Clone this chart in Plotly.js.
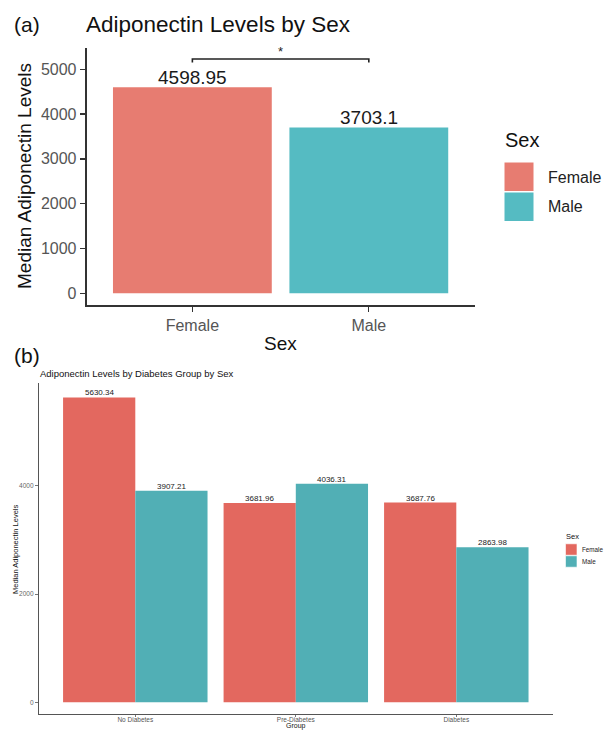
<!DOCTYPE html>
<html>
<head>
<meta charset="utf-8">
<script src="https://cdn.plot.ly/plotly-3.0.1.min.js"></script>
<style>html,body{margin:0;padding:0;background:#fff;overflow:hidden;}#chart{width:608px;height:731px;}</style>
</head>
<body>
<div id="chart"></div>
<script>
// ---- Panel (a) data ----
const sexCategories = ["Female", "Male"];
const sexMedians = [4598.95, 3703.1];
const sexTicks = [0, 1000, 2000, 3000, 4000, 5000];

// ---- Panel (b) data ----
const groupCategories = ["No Diabetes", "Pre-Diabetes", "Diabetes"];
const femaleByGroup = [5630.34, 3681.96, 3687.76];
const maleByGroup = [3907.21, 4036.31, 2863.98];
const groupTicks = [0, 2000, 4000];

const W = 608, H = 731;
const px = v => v / W;
const py = v => 1 - v / H;
const FONT = "Liberation Sans, Arial, Helvetica, sans-serif";

const colA = {Female: "#E77C71", Male: "#55BBC2"};
const colB = {Female: "#E3685F", Male: "#51AFB5"};

const traces = [];
sexCategories.forEach((s, i) => {
  traces.push({
    type: "bar", x: [s], y: [sexMedians[i]], name: s,
    xaxis: "x", yaxis: "y", offsetgroup: "a",
    marker: {color: colA[s]}, showlegend: false, hoverinfo: "x+y"
  });
});
traces.push({
  type: "bar", x: groupCategories, y: femaleByGroup, name: "Female",
  xaxis: "x2", yaxis: "y2", marker: {color: colB.Female}, showlegend: false
});
traces.push({
  type: "bar", x: groupCategories, y: maleByGroup, name: "Male",
  xaxis: "x2", yaxis: "y2", marker: {color: colB.Male}, showlegend: false
});

const annotations = [];
// bar value labels panel (a)
sexCategories.forEach((s, i) => {
  annotations.push({xref: "x", yref: "y", x: i, y: sexMedians[i], text: String(sexMedians[i]),
    showarrow: false, yanchor: "bottom", yshift: -3, font: {family: FONT, size: 19, color: "#1a1a1a"}});
});
// bar value labels panel (b)
groupCategories.forEach((g, i) => {
  annotations.push({xref: "x2", yref: "y2", x: i - 0.225, y: femaleByGroup[i], text: String(femaleByGroup[i]),
    showarrow: false, yanchor: "bottom", yshift: -2, font: {family: FONT, size: 8, color: "#1a1a1a"}});
  annotations.push({xref: "x2", yref: "y2", x: i + 0.225, y: maleByGroup[i], text: String(maleByGroup[i]),
    showarrow: false, yanchor: "bottom", yshift: -2, font: {family: FONT, size: 8, color: "#1a1a1a"}});
});
// significance star
annotations.push({xref: "x", yref: "y", x: 0.5, y: 5240, text: "*", showarrow: false,
  yanchor: "bottom", yshift: -2, font: {family: FONT, size: 13, color: "#222"}});
// panel labels
annotations.push({xref: "paper", yref: "paper", x: px(12), y: py(24), xanchor: "left", yanchor: "middle",
  text: "(a)", showarrow: false, font: {family: FONT, size: 21, color: "#111"}});
annotations.push({xref: "paper", yref: "paper", x: px(12), y: py(355), xanchor: "left", yanchor: "middle",
  text: "(b)", showarrow: false, font: {family: FONT, size: 21, color: "#111"}});
// axis titles panel (a)
annotations.push({xref: "paper", yref: "paper", x: px(24), y: py(176), xanchor: "center", yanchor: "middle",
  textangle: -90, text: "Median Adiponectin Levels", showarrow: false, font: {family: FONT, size: 19, color: "#111"}});
annotations.push({xref: "paper", yref: "paper", x: px(280.6), y: py(343), xanchor: "center", yanchor: "middle",
  text: "Sex", showarrow: false, font: {family: FONT, size: 19, color: "#111"}});
// panel (b) subtitle and axis titles
annotations.push({xref: "paper", yref: "paper", x: px(38), y: py(373), xanchor: "left", yanchor: "middle",
  text: "Adiponectin Levels by Diabetes Group by Sex", showarrow: false, font: {family: FONT, size: 9.5, color: "#111"}});
annotations.push({xref: "paper", yref: "paper", x: px(15), y: py(550), xanchor: "center", yanchor: "middle",
  textangle: -90, text: "Median Adiponectin Levels", showarrow: false, font: {family: FONT, size: 7.5, color: "#111"}});
annotations.push({xref: "paper", yref: "paper", x: px(296), y: 0, xanchor: "center", yanchor: "bottom",
  text: "Group", showarrow: false, borderpad: 0, font: {family: FONT, size: 7, color: "#111"}});
// manual legend for panel (a)
annotations.push({xref: "paper", yref: "paper", x: px(503), y: py(140), xanchor: "left", yanchor: "middle",
  text: "Sex", showarrow: false, font: {family: FONT, size: 20, color: "#111"}});
const legendRowsA = [177, 207];
sexCategories.forEach((s, i) => {
  annotations.push({xref: "paper", yref: "paper", x: px(546), y: py(legendRowsA[i]), xanchor: "left", yanchor: "middle",
    text: s, showarrow: false, font: {family: FONT, size: 16, color: "#222"}});
});
// manual legend for panel (b)
annotations.push({xref: "paper", yref: "paper", x: px(564), y: py(536), xanchor: "left", yanchor: "middle",
  text: "Sex", showarrow: false, font: {family: FONT, size: 7.5, color: "#111"}});
const legendRowsB = [549.5, 561.5];
sexCategories.forEach((s, i) => {
  annotations.push({xref: "paper", yref: "paper", x: px(580), y: py(legendRowsB[i]), xanchor: "left", yanchor: "middle",
    text: s, showarrow: false, font: {family: FONT, size: 6.3, color: "#222"}});
});

const shapes = [];
// bracket
shapes.push({type: "path", xref: "x", yref: "y", path: "M0,5150 L0,5230 L1,5230 L1,5150",
  line: {color: "#222", width: 1.6}});
// legend keys panel (a)
sexCategories.forEach((s, i) => {
  const c = legendRowsA[i];
  shapes.push({type: "rect", xref: "paper", yref: "paper", x0: px(504), x1: px(534), y0: py(c - 15), y1: py(c + 14.5),
    fillcolor: colA[s], line: {color: "#fff", width: 1}});
});
// legend keys panel (b)
sexCategories.forEach((s, i) => {
  const c = legendRowsB[i];
  shapes.push({type: "rect", xref: "paper", yref: "paper", x0: px(565.5), x1: px(577), y0: py(c - 5.7), y1: py(c + 5.7),
    fillcolor: colB[s], line: {color: "#fff", width: 0.6}});
});

const layout = {
  width: W, height: H,
  margin: {l: 0, r: 0, t: 0, b: 0, autoexpand: false},
  paper_bgcolor: "#fff", plot_bgcolor: "#fff",
  font: {family: FONT},
  showlegend: false,
  barmode: "group", bargap: 0.1, bargroupgap: 0,
  title: {text: "Adiponectin Levels by Sex", x: px(86), xanchor: "left", xref: "paper",
    y: py(24), yanchor: "middle", yref: "paper", font: {family: FONT, size: 22.5, color: "#111"}},
  xaxis: {domain: [px(86.5), px(474.7)], anchor: "y", range: [-0.6, 1.6], type: "category",
    showline: true, linecolor: "#333", linewidth: 1.8, ticks: "outside", ticklen: 5, tickwidth: 1.3, tickcolor: "#333",
    tickfont: {family: FONT, size: 16, color: "#555"}, showgrid: false, zeroline: false, fixedrange: true},
  yaxis: {domain: [py(305), py(48)], anchor: "x", range: [-261, 5475],
    tickvals: sexTicks, ticktext: sexTicks.map(String),
    showline: true, linecolor: "#333", linewidth: 1.8, ticks: "outside", ticklen: 5, tickwidth: 1.3, tickcolor: "#333",
    tickfont: {family: FONT, size: 16, color: "#555"}, showgrid: false, zeroline: false, fixedrange: true},
  xaxis2: {domain: [px(39), px(552.6)], anchor: "y2", range: [-0.6, 2.6], type: "category",
    showline: true, linecolor: "#555", linewidth: 1.2, ticks: "outside", ticklen: 2, tickwidth: 0.8, tickcolor: "#555",
    ticklabelstandoff: -3,
    tickfont: {family: FONT, size: 6.5, color: "#555"}, showgrid: false, zeroline: false, fixedrange: true},
  yaxis2: {domain: [py(714), py(383)], anchor: "x2", range: [-216, 5897],
    tickvals: groupTicks, ticktext: groupTicks.map(String),
    showline: true, linecolor: "#555", linewidth: 1.2, ticks: "outside", ticklen: 3, tickwidth: 0.8, tickcolor: "#555",
    tickfont: {family: FONT, size: 6.5, color: "#666"}, showgrid: false, zeroline: false, fixedrange: true},
  annotations: annotations,
  shapes: shapes
};

Plotly.newPlot("chart", traces, layout, {displayModeBar: false, staticPlot: true});
</script>
</body>
</html>
